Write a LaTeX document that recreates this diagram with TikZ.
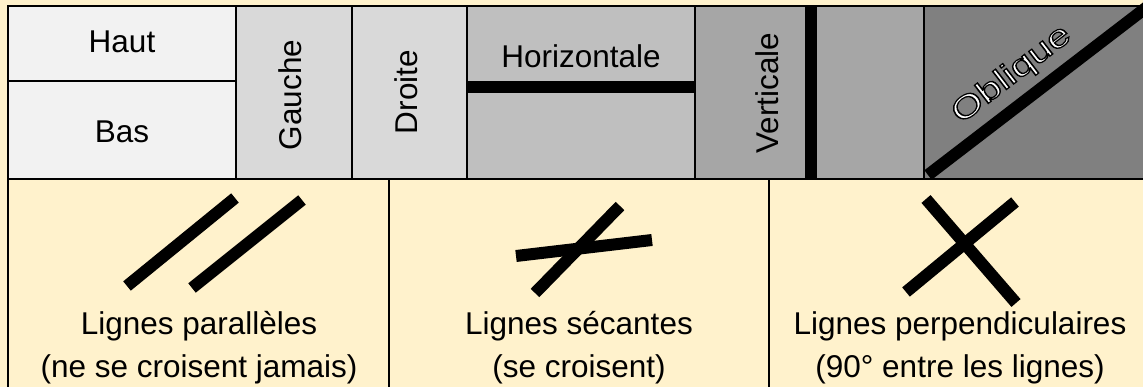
\documentclass[tikz,border=0pt]{standalone}
\usepackage{fontspec}
\setmainfont{Liberation Sans}
\usetikzlibrary{positioning}
\definecolor{creme}{HTML}{FFF2CC}
\definecolor{grisA}{HTML}{F2F2F2}
\definecolor{grisB}{HTML}{D9D9D9}
\definecolor{grisC}{HTML}{BFBFBF}
\definecolor{grisD}{HTML}{A6A6A6}
\definecolor{grisE}{HTML}{808080}
% white letters with a black outline (text render mode 2)
\newcommand{\outlined}[1]{\special{pdf:code q 2 Tr 1.2 w 0 G 1 g}#1\special{pdf:code Q}}

\begin{document}
\begin{tikzpicture}[
	x=1pt, y=-1pt,
	cell/.style = {draw=black, line width=2pt},
	bar/.style = {draw=black, line width=12pt, line cap=butt},
	txt/.style = {font=\fontsize{31.5}{43}\selectfont, align=center, inner sep=0pt},
	]
	\useasboundingbox (0,0) rectangle (1143,387);
	\clip (0,0) rectangle (1143,387);
	\fill[creme] (0,0) rectangle (1143,387);
%
	% top row: directions
	\filldraw[cell, fill=grisA] (8,6) rectangle (236,81);
	\filldraw[cell, fill=grisA] (8,81) rectangle (236,179);
	\filldraw[cell, fill=grisB] (236,6) rectangle (352,179);
	\filldraw[cell, fill=grisB] (352,6) rectangle (467,179);
	\filldraw[cell, fill=grisC] (467,6) rectangle (695,179);
	\filldraw[cell, fill=grisD] (695,6) rectangle (924,179);
	\filldraw[cell, fill=grisE] (924,6) rectangle (1152,179);
%
	\node[txt, anchor=base] (haut) at (122,53) {Haut};
	\node[txt, anchor=base] (bas) at (122,143) {Bas};
	\node[txt, rotate=90] (gauche) at (290,95) {Gauche};
	\node[txt, rotate=90] (droite) at (406,92) {Droite};
	\node[txt, anchor=base] (horiz) at (581,68) {Horizontale};
	\node[txt, rotate=90] (vert) at (767,93) {Verticale};
%
	\draw[bar] (467,87) -- (695,87);
	\draw[bar] (811,6) -- (811,179);
	\draw[bar] (928,175) -- (1160,-3);
	\node[txt, rotate=37.5, xscale=1.3] (obl) at (1012,75) {\outlined{Oblique}};
%
	% bottom row: pairs of lines
	\filldraw[cell, fill=creme] (8,179) rectangle (389,400);
	\filldraw[cell, fill=creme] (389,179) rectangle (769,400);
	\filldraw[cell, fill=creme] (769,179) rectangle (1152,400);
%
	\draw[bar] (127,286) -- (235,198);
	\draw[bar] (192,288) -- (302,200);
	\node[txt, anchor=base] (para) at (199,377) {Lignes parallèles\\(ne se croisent jamais)};
%
	\draw[bar] (535,293) -- (620,206);
	\draw[bar] (516,256) -- (652,240);
	\node[txt, anchor=base] (sec) at (579,377) {Lignes sécantes\\(se croisent)};
%
	\draw[bar] (906,292) -- (1015,202);
	\draw[bar] (926,199) -- (1016,303);
	\node[txt, anchor=base] (perp) at (960,377) {Lignes perpendiculaires\\(90° entre les lignes)};
\end{tikzpicture}
\end{document}
